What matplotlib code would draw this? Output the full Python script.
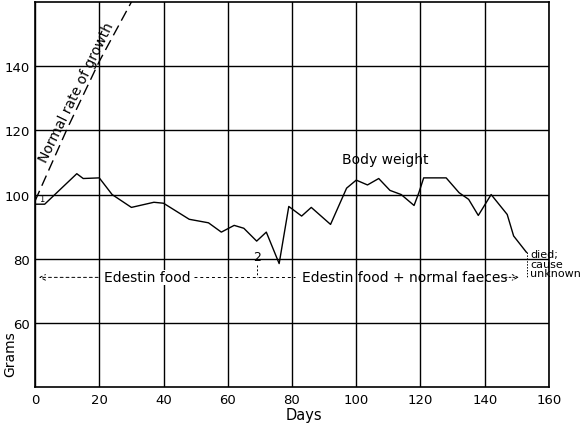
import numpy as np
import matplotlib.pyplot as plt

# body weight readings (days, grams)
days = [0, 3, 13, 15, 20, 24, 30, 37, 40, 48, 54, 58, 62, 65, 69, 72, 76, 79,
        83, 86, 92, 97, 100, 103.5, 107, 110.5, 114, 118, 119.5, 121, 128, 132,
        135, 138, 142, 147, 149, 153]
weights = [97, 97, 106.5, 105, 105.2, 100, 96, 97.6, 97.3, 92.3, 91.2, 88.3,
           90.4, 89.5, 85.5, 88.3, 78.5, 96.3, 93.3, 96, 90.7, 102, 104.5, 103,
           105, 101.3, 100, 96.6, 100.6, 105.2, 105.2, 100.6, 98.5, 93.5, 100,
           93.8, 87.1, 82]

# normal rate of growth
normal_days = [0, 10, 20, 30, 32]
normal_weights = [98, 120.5, 141.5, 160, 163.5]

x_ticks = [0, 20, 40, 60, 80, 100, 120, 140, 160]
y_ticks = [60, 80, 100, 120, 140]

fig = plt.figure(figsize=(5.84, 4.27), dpi=100)
ax = fig.add_axes([0.060, 0.091, 0.880, 0.902])

ax.plot(days, weights, color='black', lw=1.0)
ax.plot(normal_days, normal_weights, color='black', lw=1.0, dashes=(8, 4))

ax.set_xlim(0, 160)
ax.set_ylim(40, 160)
ax.set_xticks(x_ticks)
ax.set_yticks(y_ticks)
ax.grid(True, color='black', lw=1.0)
ax.tick_params(length=0, labelsize=9.5, pad=4)
for s in ax.spines.values():
    s.set_linewidth(1.2)

ax.text(12.8, 132, 'Normal rate of growth', rotation=64, fontsize=10,
        ha='center', va='center')
ax.text(109, 111, 'Body weight', fontsize=10, ha='center', va='center')
ax.text(2, 98.8, '1', fontsize=6, ha='center', va='center')
ax.text(69, 80.6, '2', fontsize=9, ha='center', va='center')
ax.plot([69, 69], [78, 74.2], color='black', lw=0.7, ls=(0, (2, 2)))

# diet periods
ax.text(35, 74.2, 'Edestin food', fontsize=10, ha='center', va='center',
        bbox=dict(fc='white', ec='none', pad=0.5))
ax.annotate('', xy=(0.3, 74.2), xytext=(20.5, 74.2),
            arrowprops=dict(arrowstyle='->', color='black', lw=0.7, ls=(0, (3, 3))))
ax.plot([49.5, 81], [74.2, 74.2], color='black', lw=0.7, ls=(0, (3, 3)))
ax.text(83, 74.2, 'Edestin food + normal faeces', fontsize=10, ha='left', va='center')
ax.annotate('', xy=(151.5, 74.2), xytext=(145.5, 74.2),
            arrowprops=dict(arrowstyle='->', color='black', lw=0.7, ls=(0, (2, 2))))
ax.plot([153.3, 153.3], [82, 74], color='black', lw=0.7, ls=(0, (1.5, 1.5)), clip_on=False)
ax.text(154.2, 78.5, 'died;\ncause\nunknown', fontsize=8, ha='left', va='center',
        linespacing=0.9, clip_on=False)

fig.text(0.52, 0.028, 'Days', fontsize=10.5, ha='center', va='center')
fig.text(0.018, 0.17, 'Grams', fontsize=10, rotation=90, ha='center', va='center')

fig.savefig('out.png', dpi=100)
